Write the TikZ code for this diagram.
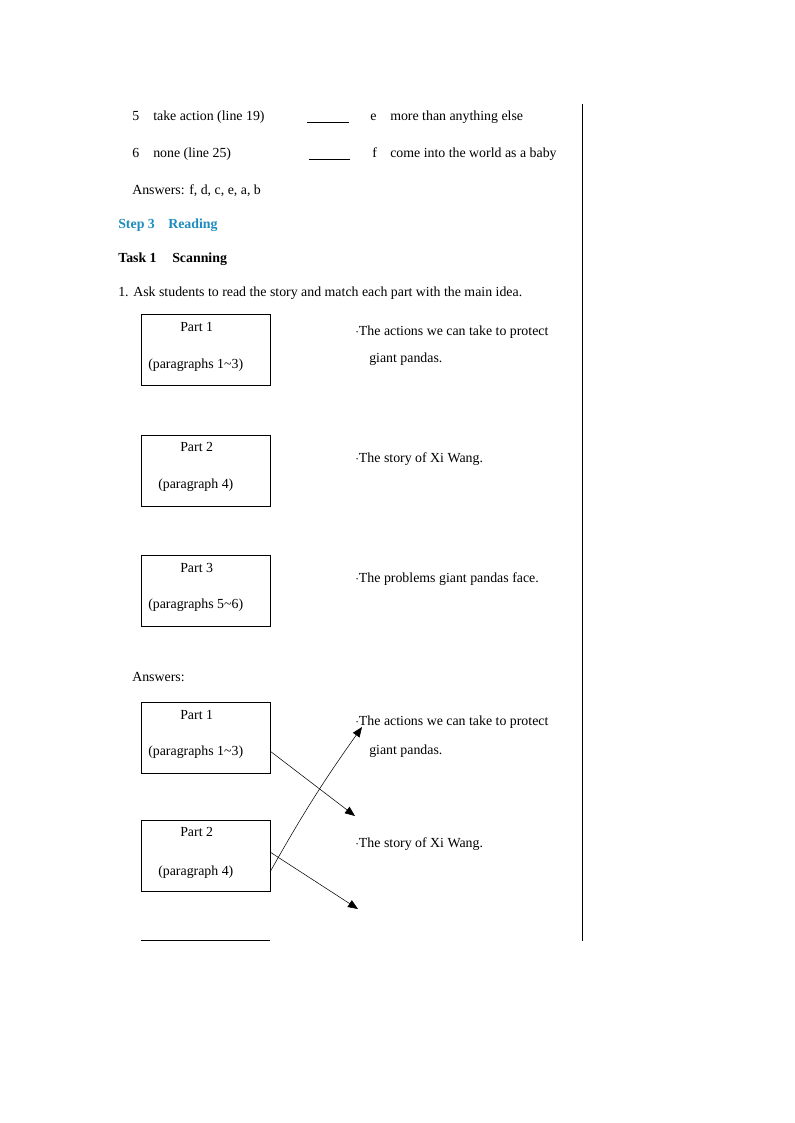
\documentclass[tikz,border=0pt]{standalone}
\usepackage{fontspec}
\setmainfont{Liberation Serif}
\usepackage{xcolor}
\usepackage{tikz}
\usetikzlibrary{arrows.meta}
\definecolor{stepblue}{RGB}{30,140,190}

\begin{document}
\begin{tikzpicture}[x = .75pt, y = -.75pt, font = \fontsize{10.4}{12}\selectfont,
  txt/.style = {anchor = base west, inner sep = 0, yshift = -3.4pt},
  head/.style = {txt, font = \fontsize{10.4}{12}\selectfont\bfseries},
  partbox/.style = {draw, anchor = north west, minimum width = 96.75pt, minimum height = 53.5pt, inner sep = 0},
  match/.style = {-{Triangle[length = 7.5pt, width = 6pt]}}]
 \useasboundingbox (0, 0) rectangle (794, 1123);
 \draw (582, 104) -- (582, 941);
 % vocabulary lines
 \node[txt] (n5) at (132, 116) {5};
 \node[txt] at (153, 116) {take action (line 19)};
 \draw (307, 122.5) -- (349, 122.5);
 \node[txt] at (370, 116) {e};
 \node[txt] at (390, 116) {more than anything else};
 \node[txt] (n6) at (132, 153) {6};
 \node[txt] at (153, 153) {none (line 25)};
 \draw (309, 159.5) -- (350, 159.5);
 \node[txt] at (372, 153) {f};
 \node[txt] at (390, 153) {come into the world as a baby};
 \node[txt] at (132, 190) {Answers: f, d, c, e, a, b};
 % headings
 \node[head, stepblue] at (118, 224) {Step 3};
 \node[head, stepblue] at (168, 224) {Reading};
 \node[head] at (118, 258) {Task 1};
 \node[head] at (172, 258) {Scanning};
 \node[txt] at (118, 292) {1. Ask students to read the story and match each part with the main idea.};
 % first set of boxes
 \node[partbox] (p1) at (141, 314) {};
 \node[txt] at (180, 327) {Part 1};
 \node[txt] at (148, 364) {(paragraphs 1\char"7E 3)};
 \node[partbox] (p2) at (141, 435) {};
 \node[txt] at (180, 447) {Part 2};
 \node[txt] at (158, 484) {(paragraph 4)};
 \node[partbox] (p3) at (141, 555) {};
 \node[txt] at (180, 568) {Part 3};
 \node[txt] at (148, 604) {(paragraphs 5\char"7E 6)};
 \node[txt] at (355, 331) {$\cdot$The actions we can take to protect};
 \node[txt] at (369, 358) {giant pandas.};
 \node[txt] at (355, 458) {$\cdot$The story of Xi Wang.};
 \node[txt] at (355, 578) {$\cdot$The problems giant pandas face.};
 % answers
 \node[txt] at (132, 677) {Answers:};
 \node[partbox] (q1) at (141, 702) {};
 \node[txt] at (180, 715) {Part 1};
 \node[txt] (q1d) at (148, 751) {(paragraphs 1\char"7E 3)};
 \node[partbox] (q2) at (141, 820) {};
 \node[txt] at (180, 832) {Part 2};
 \node[txt] (q2d) at (158, 871) {(paragraph 4)};
 \node[txt] (a1) at (355, 721) {$\cdot$The actions we can take to protect};
 \node[txt] at (369, 750) {giant pandas.};
 \node[txt] (a2) at (355, 843) {$\cdot$The story of Xi Wang.};
 \draw (141, 940) -- (270, 940);
 \coordinate (s1) at (270, 751);
 \coordinate (e1) at (355, 816);
 \coordinate (s2) at (270, 872);
 \coordinate (e2) at (362, 727);
 \coordinate (s3) at (270, 852);
 \coordinate (e3) at (358, 909);
 \draw[match] (s1) -- (e1);
 \draw[match] (s2) to [bend left = 3] (e2);
 \draw[match] (s3) -- (e3);
\end{tikzpicture}
\end{document}
